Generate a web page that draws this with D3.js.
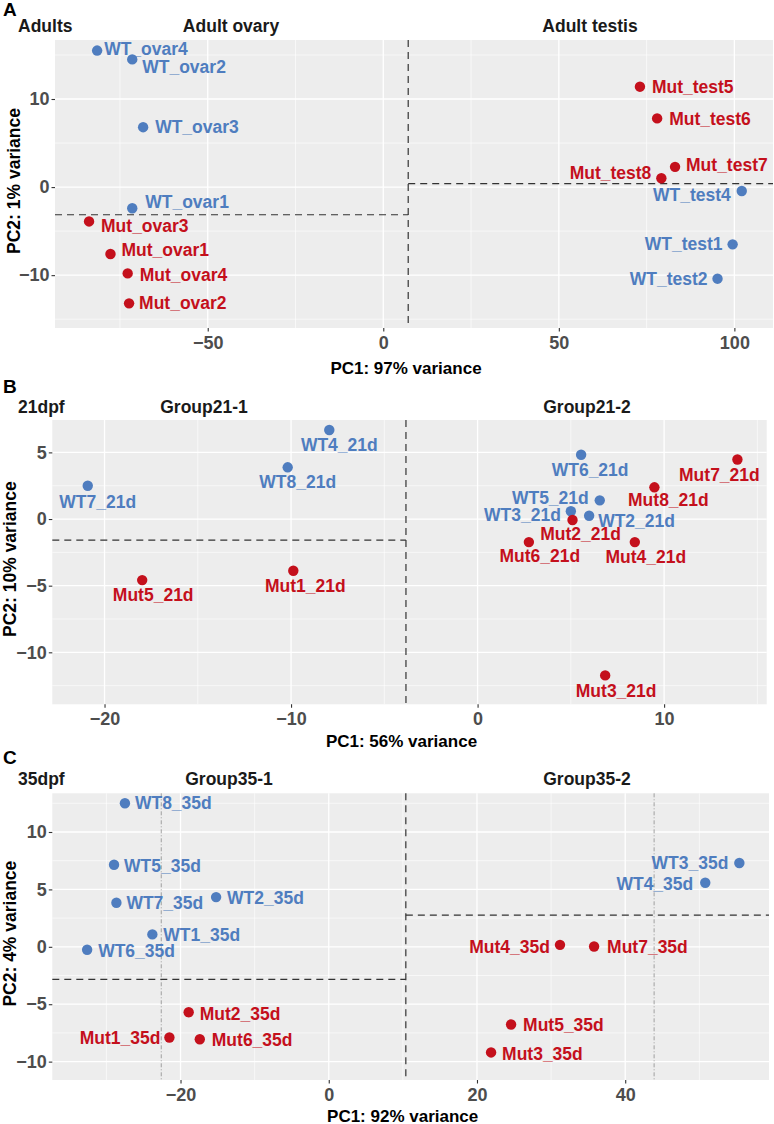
<!DOCTYPE html>
<html>
<head>
<meta charset="utf-8">
<script src="https://cdn.jsdelivr.net/npm/d3@7"></script>
<style>
  body { margin: 0; background: #fff; }
  svg { font-family: "Liberation Sans", Arial, sans-serif; font-weight: bold; }
  .tick text { fill: #4d4d4d; font-size: 18px; font-weight: bold; }
  .tick line { stroke: #333; stroke-width: 1.1; }
</style>
</head>
<body>
<div id="chart"></div>
<script>
// ---- data: panel A (adults) ----
const adultNames = ['WT_ovar4', 'WT_ovar2', 'WT_ovar3', 'WT_ovar1', 'Mut_ovar3', 'Mut_ovar1', 'Mut_ovar4', 'Mut_ovar2',
    'Mut_test5', 'Mut_test6', 'Mut_test7', 'Mut_test8', 'WT_test4', 'WT_test1', 'WT_test2']
const adultPC1 = [-81.5, -71.5, -68.4, -71.5, -83.8, -77.7, -72.8, -72.4, 73.1, 78.0, 83.1, 79.2, 102.1, 99.5, 95.2]
const adultPC2 = [15.5, 14.5, 6.8, -2.4, -3.9, -7.6, -9.8, -13.2, 11.4, 7.8, 2.3, 1.0, -0.45, -6.5, -10.4]

// ---- data: panel B (21dpf) ----
const d21Names = ['WT7_21d', 'WT8_21d', 'WT4_21d', 'Mut5_21d', 'Mut1_21d', 'WT6_21d', 'Mut7_21d', 'Mut8_21d',
    'WT5_21d', 'WT3_21d', 'WT2_21d', 'Mut2_21d', 'Mut6_21d', 'Mut4_21d', 'Mut3_21d']
const d21PC1 = [-20.9, -10.18, -7.95, -17.98, -9.88, 5.55, 13.93, 9.48, 6.55, 5.0, 5.98, 5.09, 2.75, 8.43, 6.84]
const d21PC2 = [2.5, 3.88, 6.68, -4.58, -3.88, 4.82, 4.47, 2.38, 1.40, 0.58, 0.25, -0.07, -1.73, -1.73, -11.73]

// ---- data: panel C (35dpf) ----
const d35Names = ['WT8_35d', 'WT5_35d', 'WT7_35d', 'WT2_35d', 'WT1_35d', 'WT6_35d', 'Mut2_35d', 'Mut1_35d', 'Mut6_35d',
    'WT3_35d', 'WT4_35d', 'Mut4_35d', 'Mut7_35d', 'Mut5_35d', 'Mut3_35d']
const d35PC1 = [-27.5, -28.97, -28.65, -15.2, -23.8, -32.6, -18.9, -21.5, -17.4, 55.4, 50.8, 31.2, 35.8, 24.6, 21.9]
const d35PC2 = [12.5, 7.15, 3.84, 4.33, 1.08, -0.26, -5.7, -7.9, -8.05, 7.3, 5.58, 0.17, 0.03, -6.77, -9.2]

// ticks
const adultXTicks = [-50, 0, 50, 100]
const adultYTicks = [-10, 0, 10]
const d21XTicks = [-20, -10, 0, 10]
const d21YTicks = [-10, -5, 0, 5]
const d35XTicks = [-20, 0, 20, 40]
const d35YTicks = [-10, -5, 0, 5, 10]

// group split lines (data units)
const adultCuts = { v: 7.1, hLeft: -3.14, hRight: 0.39 }
const d21Cuts = { v: -3.84, hLeft: -1.58, hRight: null }
const d35Cuts = { v: 10.4, hLeft: -2.84, hRight: 2.76, guides: [-22.6, 43.9] }

// label placement (pixel nudges from point, like ggrepel did): [dx, dy, anchor]
const adultNudge = [[7, -2, 'start'], [10, 7, 'start'], [12, 0, 'start'], [13, -6, 'start'], [12, 4, 'start'],
    [11, -4, 'start'], [12, 1, 'start'], [10, 0, 'start'], [12, 0, 'start'], [12, 0, 'start'], [11, -2, 'start'],
    [-10, -5, 'end'], [-11, 4, 'end'], [-10, 0, 'end'], [-10, 0, 'end']]
const d21Nudge = [[10, 16, 'middle'], [10, 15, 'middle'], [10, 15, 'middle'], [11, 15, 'middle'], [12, 15, 'middle'],
    [9, 15, 'middle'], [-18, 15, 'middle'], [14, 13, 'middle'], [-11, -2, 'end'], [-10, 4, 'end'], [9, 5, 'start'],
    [8, 14, 'middle'], [11, 14, 'middle'], [11, 15, 'middle'], [11, 15, 'middle']]
const d35Nudge = [[10, 0, 'start'], [10, 1, 'start'], [10, 0, 'start'], [11, 1, 'start'], [11, 0, 'start'],
    [11, 1, 'start'], [11, 2, 'start'], [-9, 0, 'end'], [12, 1, 'start'], [-11, 0, 'end'], [-12, 1, 'end'],
    [-10, 2, 'end'], [13, 0, 'start'], [12, 0, 'start'], [11, 1, 'start']]

const colorWT = '#4f7dbf'
const colorMut = '#c4101c'

const panels = [
    {
        letter: 'A', stage: 'Adults', groups: ['Adult ovary', 'Adult testis'], groupX: [231, 590],
        names: adultNames, pc1: adultPC1, pc2: adultPC2, nudge: adultNudge,
        xTicks: adultXTicks, yTicks: adultYTicks, cuts: adultCuts,
        xLabel: 'PC1: 97% variance', yLabel: 'PC2: 1% variance',
        xDomain: [-93.5, 111], yDomain: [-16.0, 16.7],
        box: { left: 55, right: 773, top: 40, bottom: 328 }, headY: 32, letterY: 16, xTitleY: 374, yTitleX: 19.5
    },
    {
        letter: 'B', stage: '21dpf', groups: ['Group21-1', 'Group21-2'], groupX: [204, 587],
        names: d21Names, pc1: d21PC1, pc2: d21PC2, nudge: d21Nudge,
        xTicks: d21XTicks, yTicks: d21YTicks, cuts: d21Cuts,
        xLabel: 'PC1: 56% variance', yLabel: 'PC2: 10% variance',
        xDomain: [-22.8, 15.5], yDomain: [-13.9, 7.43],
        box: { left: 52.3, right: 766.7, top: 420, bottom: 704.3 }, headY: 412.5, letterY: 392.5, xTitleY: 747, yTitleX: 15.5
    },
    {
        letter: 'C', stage: '35dpf', groups: ['Group35-1', 'Group35-2'], groupX: [229, 587],
        names: d35Names, pc1: d35PC1, pc2: d35PC2, nudge: d35Nudge,
        xTicks: d35XTicks, yTicks: d35YTicks, cuts: d35Cuts,
        xLabel: 'PC1: 92% variance', yLabel: 'PC2: 4% variance',
        xDomain: [-37.3, 59.4], yDomain: [-11.6, 13.37],
        box: { left: 52.3, right: 769, top: 793.3, bottom: 1080 }, headY: 785, letterY: 764, xTitleY: 1121.5, yTitleX: 15.5
    }
]

const svg = d3.select('#chart').append('svg')
    .attr('width', 774).attr('height', 1124)

// minor breaks halfway between majors, extended past both ends
function minorBreaks(ticks) {
    const step = ticks[1] - ticks[0]
    const out = []
    for (let i = -1; i < ticks.length; i++) {
        const base = i < 0 ? ticks[0] - step : ticks[i]
        out.push(base + step / 2)
    }
    return out
}

function drawPanel(p) {
    const b = p.box
    const x = d3.scaleLinear().domain(p.xDomain).range([b.left, b.right])
    const y = d3.scaleLinear().domain(p.yDomain).range([b.bottom, b.top])
    const g = svg.append('g')

    g.append('rect')
        .attr('x', b.left).attr('y', b.top)
        .attr('width', b.right - b.left).attr('height', b.bottom - b.top)
        .attr('fill', '#ededed')

    const inX = v => v >= p.xDomain[0] && v <= p.xDomain[1]
    const inY = v => v >= p.yDomain[0] && v <= p.yDomain[1]

    // grid
    const grid = g.append('g')
    grid.selectAll('.vminor').data(minorBreaks(p.xTicks).filter(inX)).join('line')
        .attr('x1', d => x(d)).attr('x2', d => x(d)).attr('y1', b.top).attr('y2', b.bottom)
        .attr('stroke', '#fff').attr('stroke-width', 0.6)
    grid.selectAll('.hminor').data(minorBreaks(p.yTicks).filter(inY)).join('line')
        .attr('y1', d => y(d)).attr('y2', d => y(d)).attr('x1', b.left).attr('x2', b.right)
        .attr('stroke', '#fff').attr('stroke-width', 0.6)
    grid.selectAll('.vmajor').data(p.xTicks).join('line')
        .attr('x1', d => x(d)).attr('x2', d => x(d)).attr('y1', b.top).attr('y2', b.bottom)
        .attr('stroke', '#fff').attr('stroke-width', 1.3)
    grid.selectAll('.hmajor').data(p.yTicks).join('line')
        .attr('y1', d => y(d)).attr('y2', d => y(d)).attr('x1', b.left).attr('x2', b.right)
        .attr('stroke', '#fff').attr('stroke-width', 1.3)

    // thin guide lines (panel C)
    if (p.cuts.guides) {
        g.selectAll('.guide').data(p.cuts.guides).join('line')
            .attr('x1', d => x(d)).attr('x2', d => x(d)).attr('y1', b.top).attr('y2', b.bottom)
            .attr('stroke', '#8c8c8c').attr('stroke-width', 0.8)
            .attr('stroke-dasharray', '4,2,1,2')
    }

    // split lines
    const dash = { stroke: '#333', width: 1.2, array: '7,5' }
    const vx = x(p.cuts.v)
    g.append('line')
        .attr('x1', vx).attr('x2', vx).attr('y1', b.top).attr('y2', b.bottom)
        .attr('stroke', dash.stroke).attr('stroke-width', dash.width).attr('stroke-dasharray', dash.array)
    g.append('line')
        .attr('x1', b.left).attr('x2', vx).attr('y1', y(p.cuts.hLeft)).attr('y2', y(p.cuts.hLeft))
        .attr('stroke', dash.stroke).attr('stroke-width', dash.width).attr('stroke-dasharray', dash.array)
    if (p.cuts.hRight !== null) {
        g.append('line')
            .attr('x1', vx).attr('x2', b.right).attr('y1', y(p.cuts.hRight)).attr('y2', y(p.cuts.hRight))
            .attr('stroke', dash.stroke).attr('stroke-width', dash.width).attr('stroke-dasharray', dash.array)
    }

    // axes
    const xAxis = d3.axisBottom(x).tickValues(p.xTicks).tickSize(3.5).tickPadding(4.5).tickFormat(d3.format('d'))
    g.append('g').attr('transform', `translate(0,${b.bottom})`).call(xAxis)
        .call(a => a.select('.domain').remove())
    const yAxis = d3.axisLeft(y).tickValues(p.yTicks).tickSize(3.5).tickPadding(2).tickFormat(d3.format('d'))
    g.append('g').attr('transform', `translate(${b.left},0)`).call(yAxis)
        .call(a => a.select('.domain').remove())

    // points
    const rows = p.names.map((n, i) => ({ name: n, pc1: p.pc1[i], pc2: p.pc2[i], wt: n.startsWith('WT'), nudge: p.nudge[i] }))
    g.selectAll('.pt').data(rows).join('circle')
        .attr('cx', d => x(d.pc1)).attr('cy', d => y(d.pc2)).attr('r', 5.2)
        .attr('fill', d => d.wt ? colorWT : colorMut)

    g.selectAll('.lbl').data(rows).join('text')
        .attr('x', d => x(d.pc1) + d.nudge[0])
        .attr('y', d => y(d.pc2) + d.nudge[1])
        .attr('dy', '0.35em')
        .attr('text-anchor', d => d.nudge[2])
        .attr('font-size', 17.5)
        .attr('fill', d => d.wt ? colorWT : colorMut)
        .text(d => d.name)

    // headers
    g.append('text').attr('x', 3).attr('y', p.letterY).attr('font-size', 19).attr('fill', '#000').text(p.letter)
    g.append('text').attr('x', 18).attr('y', p.headY).attr('font-size', 17.5).attr('fill', '#1a1a1a').text(p.stage)
    g.selectAll('.grp').data(p.groups).join('text')
        .attr('x', (d, i) => p.groupX[i]).attr('y', p.headY)
        .attr('text-anchor', 'middle').attr('font-size', 17.5).attr('fill', '#1a1a1a')
        .text(d => d)

    // axis titles
    g.append('text').attr('x', (b.left + b.right) / 2 - 8).attr('y', p.xTitleY)
        .attr('text-anchor', 'middle').attr('font-size', 17).attr('fill', '#000').text(p.xLabel)
    g.append('text')
        .attr('transform', `translate(${p.yTitleX},${(b.top + b.bottom) / 2 - 3}) rotate(-90)`)
        .attr('text-anchor', 'middle').attr('font-size', 17.5).attr('fill', '#000').text(p.yLabel)
}

panels.forEach(drawPanel)
</script>
</body>
</html>
